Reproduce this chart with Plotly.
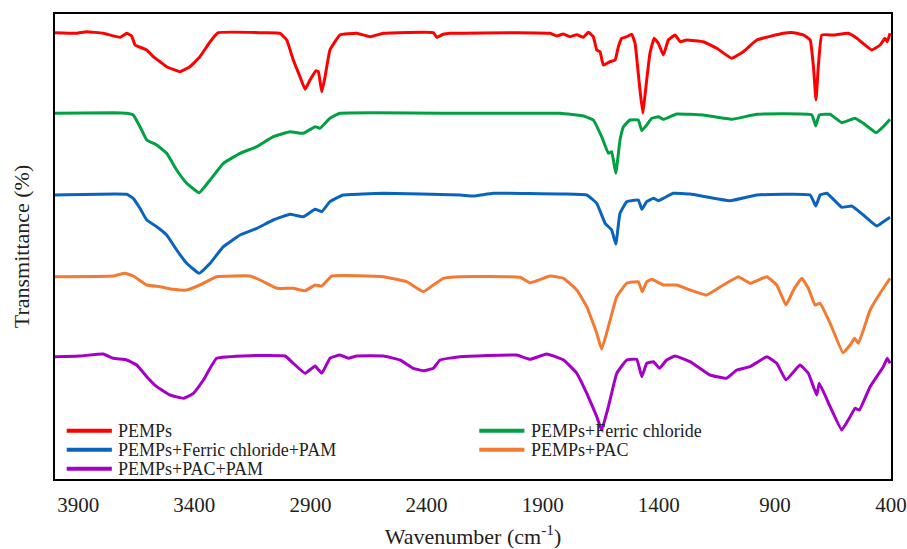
import plotly.graph_objects as go

# FTIR spectra, stacked (arbitrary transmittance units, offsets included)
red_wn = [4000, 3907, 3864, 3792, 3720, 3691, 3670, 3655, 3605, 3577, 3548, 3519, 3462, 3419, 3376,
          3332, 3297, 3088, 3031, 3002, 2974, 2945, 2923, 2902, 2876, 2866, 2851, 2837, 2816, 2773,
          2701, 2643, 2586, 2371, 2356, 2328, 2299, 2012, 1868, 1839, 1811, 1782, 1753, 1725, 1703,
          1682, 1667, 1653, 1639, 1610, 1588, 1574, 1560, 1538, 1516, 1502, 1484, 1469, 1452, 1438,
          1420, 1402, 1380, 1359, 1330, 1308, 1280, 1208, 1150, 1086, 1036, 978, 863, 820, 777,
          748, 734, 723, 713, 698, 648, 584, 547, 483, 447, 426, 416, 404]
red_t = [446.3, 445.7, 447.3, 445.7, 441.7, 445.7, 443, 434, 429, 422.3, 417.3, 412.3, 407.3, 412.3, 422.3,
         437.3, 446.3, 446.3, 445.7, 439, 419, 402.3, 389.7, 399, 408.3, 407.3, 387.3, 402.3, 429, 444,
         445.7, 442.3, 445.7, 446.3, 441.7, 444.7, 445.7, 446.3, 445.7, 443, 445, 442.3, 444.3, 441.7, 446.7,
         442.3, 429, 427.3, 414, 417.3, 419, 432.3, 440.7, 442.3, 444.7, 435.7, 395.7, 365.7, 399, 425.7,
         440.7, 435.7, 424, 439, 444, 437.3, 439, 437.3, 430.7, 420.7, 427.3, 439, 445.7, 446.3, 444,
         439, 412.3, 379, 412.3, 444, 444, 445.7, 440.7, 429, 434, 440.7, 437.3, 445.7]

green_wn = [4000, 3749, 3691, 3663, 3634, 3605, 3562, 3519, 3476, 3433, 3379, 3332, 3275, 3203, 3131,
            3060, 2988, 2931, 2880, 2859, 2816, 2773, 2256, 1825, 1724, 1682, 1646, 1617, 1603, 1585,
            1567, 1552, 1524, 1488, 1473, 1452, 1430, 1402, 1380, 1323, 1208, 1086, 978, 741, 724,
            709, 662, 612, 555, 519, 464, 433, 404]
green_t = [365.7, 366.3, 365.7, 364, 352.3, 339, 334, 325.7, 309, 295.7, 286.3, 299, 315.7, 325.7, 332.3,
           342.3, 347.3, 345.7, 352.3, 350.7, 360.7, 365.7, 365.7, 365.7, 363, 359, 342.3, 325.7, 327.3, 305.7,
           339, 352.3, 359, 359, 348.3, 354, 360.7, 362.3, 359.7, 365, 364, 359.7, 364.7, 364, 353,
           364, 364.7, 356.3, 360.7, 355.7, 346.3, 352.3, 359.7]

blue_wn = [4000, 3691, 3663, 3634, 3605, 3562, 3519, 3476, 3433, 3379, 3332, 3275, 3203, 3131, 3060,
           2988, 2931, 2880, 2851, 2816, 2759, 2586, 2256, 2198, 2112, 1810, 1710, 1667, 1631, 1603,
           1585, 1567, 1538, 1488, 1473, 1452, 1423, 1402, 1380, 1337, 1265, 1093, 978, 748, 724,
           705, 676, 612, 569, 519, 461, 433, 404]
blue_t = [284, 284.7, 280.7, 270.7, 259, 252.3, 244, 229, 215.7, 205.7, 215.7, 232.3, 244, 250.7, 259,
          264.7, 262.3, 269.7, 267.3, 277.3, 284, 285.7, 284, 283, 285.7, 285, 284, 275.7, 255.7, 249,
          235, 265.7, 277.3, 279, 269.7, 277.3, 280.7, 278.3, 280.7, 285.7, 285, 278.3, 284, 284, 273,
          284, 285.7, 271.7, 273, 264, 253, 257.3, 261.7]

orange_wn = [4000, 3749, 3699, 3663, 3605, 3548, 3491, 3433, 3376, 3304, 3160, 3117, 3045, 2974, 2923,
             2880, 2851, 2808, 2586, 2486, 2414, 2371, 2328, 2256, 1997, 1954, 1868, 1810, 1753, 1710,
             1667, 1646, 1617, 1581, 1538, 1488, 1471, 1452, 1430, 1380, 1323, 1265, 1194, 1122, 1057,
             1007, 935, 892, 852, 820, 784, 756, 727, 705, 662, 607, 576, 557, 540, 490, 447, 404]
orange_t = [202.3, 203, 205.7, 203, 194, 192.3, 189.7, 189, 194, 202.3, 203, 199, 190.7, 190.7, 188.3,
            194, 193, 203, 202.3, 197.3, 187.3, 194, 200.7, 202.3, 201.7, 196.3, 203, 200.7, 189, 172.3,
            145.7, 129.7, 152.3, 182.3, 195.7, 197.3, 187.3, 197.3, 199.7, 194, 194, 189, 184, 194, 202.3,
            195.7, 202.3, 194, 174, 189, 200.7, 190.7, 174, 175.7, 155.7, 126.3, 134, 140.7, 135.7, 169, 185.7, 200.7]

purple_wn = [4000, 3892, 3792, 3749, 3691, 3648, 3605, 3562, 3505, 3447, 3404, 3361, 3304, 3160, 3009,
             2974, 2923, 2880, 2851, 2816, 2773, 2737, 2701, 2586, 2514, 2457, 2414, 2371, 2342, 2256,
             2012, 1954, 1882, 1810, 1753, 1710, 1667, 1646, 1617, 1581, 1538, 1495, 1473, 1452, 1423,
             1397, 1366, 1330, 1265, 1180, 1108, 1064, 1007, 935, 892, 852, 792, 756, 720, 709,
             662, 612, 576, 555, 536, 490, 433, 416, 404]
purple_t = [122.3, 123, 125, 120.7, 119, 114, 102.3, 92.3, 84, 80.7, 85.7, 99, 120.7, 123.3, 123,
            115.7, 105.7, 113, 105.7, 120.7, 124, 120.7, 123, 123, 119, 110.7, 108.3, 110.7, 119, 122.3,
            124, 119.7, 125, 119, 105.7, 85.7, 62.3, 49, 72.3, 105.7, 119, 119.7, 102.3, 115.7, 117.3,
            110.7, 119, 123, 117.3, 104, 100.7, 109, 112.3, 122.3, 115.7, 99, 114, 105.7, 84, 95.7,
            72.3, 49, 62.3, 70.7, 69, 92.3, 112.3, 120.7, 115.7]

names = ["PEMPs", "PEMPs+Ferric chloride", "PEMPs+Ferric chloride+PAM", "PEMPs+PAC", "PEMPs+PAC+PAM"]
colors = ["#ff0000", "#00a043", "#0a64be", "#f47a32", "#a400c8"]
series = [(red_wn, red_t), (green_wn, green_t), (blue_wn, blue_t), (orange_wn, orange_t), (purple_wn, purple_t)]
tick_vals = [3900, 3400, 2900, 2400, 1900, 1400, 900, 400]

FONT = "Times New Roman, Liberation Serif, serif"

fig = go.Figure()
for name, color, (wn, t) in zip(names, colors, series):
    fig.add_trace(go.Scatter(x=wn, y=t, mode="lines", name=name, showlegend=False,
                             line=dict(color=color, width=3, shape="spline", smoothing=0.3)))

# legend drawn as line samples + labels in two columns
legend_pos = [(0.014, 0.104), (0.5075, 0.104), (0.014, 0.063), (0.5075, 0.063), (0.014, 0.022)]
for name, color, (lx, ly) in zip(names, colors, legend_pos):
    fig.add_shape(type="line", xref="paper", yref="paper", x0=lx, x1=lx + 0.054, y0=ly, y1=ly,
                  line=dict(color=color, width=4))
    fig.add_annotation(xref="paper", yref="paper", x=lx + 0.059, y=ly, text=name, showarrow=False,
                       xanchor="left", yanchor="middle", font=dict(family=FONT, size=18, color="#222"))

fig.update_layout(
    width=907, height=549,
    margin=dict(l=55, r=16, t=14, b=70),
    paper_bgcolor="white", plot_bgcolor="white",
    font=dict(family=FONT, color="#222"),
    xaxis=dict(range=[4000, 400], tickvals=tick_vals, ticks="", showgrid=False, zeroline=False,
               showline=True, mirror=True, linecolor="black", linewidth=1.5, automargin=False,
               ticklabelstandoff=6,
               tickfont=dict(size=21, family=FONT, color="#222"),
               title=dict(text="Wavenumber (cm<sup>-1</sup>)", font=dict(size=22, family=FONT), standoff=14)),
    yaxis=dict(range=[0, 465], showticklabels=False, ticks="", showgrid=False, zeroline=False,
               showline=True, mirror=True, linecolor="black", linewidth=1.5, automargin=False,
               title=dict(text="Transmittance (%)", font=dict(size=22, family=FONT), standoff=18)),
)

fig.write_html("out.html")
